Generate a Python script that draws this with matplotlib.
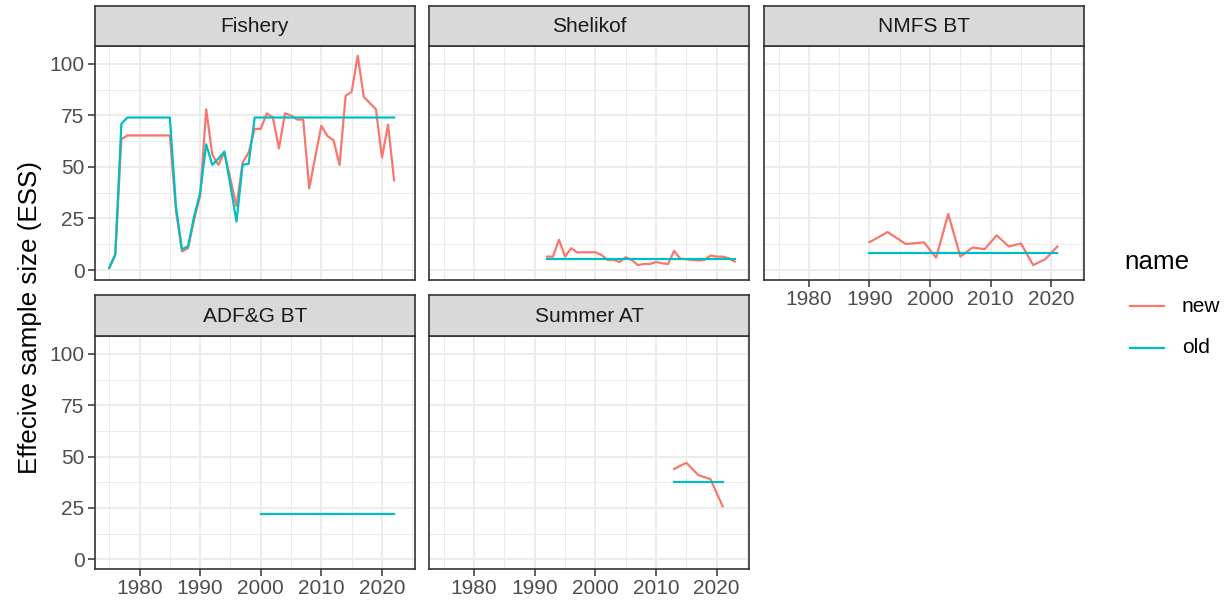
import numpy as np
import matplotlib
matplotlib.use("Agg")
import matplotlib.pyplot as plt
from matplotlib.lines import Line2D

plt.rcParams['font.family'] = ['Liberation Sans', 'DejaVu Sans']

# effective sample size by fleet / survey, "new" vs "old" weighting
fish_years = list(range(1975, 2023))
fish_new = [1, 7.5, 63.5, 65.3, 65.3, 65.3, 65.3, 65.3, 65.3, 65.3, 65.3,
            29, 9, 10.5, 24.5, 36, 78, 56, 51, 57, 44, 31, 52, 57, 68.5,
            68.5, 76, 74, 59, 76, 75, 73, 73, 39.6, 55, 70, 65, 63, 51,
            84.5, 86.5, 104, 84, 81, 78, 54.6, 70.5, 43.5]
fish_old = [1, 7.5, 71, 74, 74, 74, 74, 74, 74, 74, 74,
            31, 10, 11.5, 26, 37.5, 61, 51, 54, 57.5, 41, 23.5, 51, 51.5] + [74] * 24

shel_years = list(range(1992, 2024))
shel_new = [6.5, 6.5, 14.7, 6.5, 10.6, 8.5, 8.6, 8.6, 8.6, 7.3, 4.9, 4.9,
            3.9, 6.2, 4.9, 2.4, 2.9, 2.9, 3.9, 3.3, 2.9, 9.3, 5.5, 5.2,
            4.9, 4.6, 4.9, 7.0, 6.5, 6.5, 5.7, 4.1]
shel_old = [5.5] * 32

nmfs_years = [1990, 1993, 1996, 1999, 2001, 2003, 2005, 2007, 2009, 2011,
              2013, 2015, 2017, 2019, 2021]
nmfs_new = [13.5, 18.4, 12.6, 13.4, 6.0, 27.2, 6.5, 10.9, 10.1, 16.8,
            11.4, 12.9, 2.4, 5.2, 11.4]
nmfs_old = [8.2] * 15

adfg_years = list(range(2000, 2023))
adfg_old = [22.3] * 23

summ_years = [2013, 2015, 2017, 2019, 2021]
summ_new = [44, 47, 41, 39, 25.8]
summ_old = [37.6] * 5

panels = [
    ("Fishery", fish_years, fish_new, fish_years, fish_old),
    ("Shelikof", shel_years, shel_new, shel_years, shel_old),
    ("NMFS BT", nmfs_years, nmfs_new, nmfs_years, nmfs_old),
    ("ADF&G BT", [], [], adfg_years, adfg_old),
    ("Summer AT", summ_years, summ_new, summ_years, summ_old),
]

NEW_C = "#F8766D"
OLD_C = "#00BFC4"
GRID = "#EBEBEB"
DARK = "#333333"
TXT = "#4D4D4D"
SMALL = 15
BIG = 18.75

W, H = 1228, 605
fig = plt.figure(figsize=(W / 100, H / 100), dpi=100)


def box(x0, y0, x1, y1):
    return [x0 / W, 1 - y1 / H, (x1 - x0) / W, (y1 - y0) / H]


col_x = [94.7, 429.3, 764.0]
pw = 320
rows = [(6, 46, 280), (295, 336, 569.3)]

xlim = (1972.6, 2025.4)
ylim = (-4.85, 108.7)

for i, (title, xn, yn, xo, yo) in enumerate(panels):
    r, c = divmod(i, 3)
    st, pt, pb = rows[r]
    x0 = col_x[c]
    ax = fig.add_axes(box(x0, pt, x0 + pw, pb))
    ax.set_xlim(xlim)
    ax.set_ylim(ylim)
    ax.set_xticks([1980, 1990, 2000, 2010, 2020])
    ax.set_xticks([1975, 1985, 1995, 2005, 2015, 2025], minor=True)
    ax.set_yticks([0, 25, 50, 75, 100])
    ax.set_yticks([12.5, 37.5, 62.5, 87.5], minor=True)
    ax.grid(True, which="major", color=GRID, lw=1.3, zorder=0)
    ax.grid(True, which="minor", color=GRID, lw=0.7, zorder=0)
    ax.set_axisbelow(True)
    for s in ax.spines.values():
        s.set_color(DARK)
        s.set_linewidth(1.2)
    ax.tick_params(which="minor", length=0)
    ax.tick_params(which="major", length=4.8, width=1.1, color=DARK,
                   labelsize=SMALL, labelcolor=TXT, pad=2.5)

    if xn:
        ax.plot(xn, yn, color=NEW_C, lw=1.6, zorder=3)
    ax.plot(xo, yo, color=OLD_C, lw=1.6, zorder=4)

    show_x = (r == 1) or (c == 2)
    if not show_x:
        ax.tick_params(axis="x", length=0, labelbottom=False)
    if c != 0:
        ax.tick_params(axis="y", length=0, labelleft=False)

    sax = fig.add_axes(box(x0, st, x0 + pw, pt))
    sax.set_facecolor("#D9D9D9")
    sax.set_xticks([])
    sax.set_yticks([])
    for s in sax.spines.values():
        s.set_color(DARK)
        s.set_linewidth(1.2)
    sax.text(0.5, 0.48, title, ha="center", va="center", fontsize=SMALL,
             color="#1A1A1A", transform=sax.transAxes)

fig.text(30 / W, 1 - 317 / H, "Effecive sample size (ESS)", rotation=90,
         ha="center", va="center", fontsize=BIG, color="black")

# legend
fig.text(1124 / W, 1 - 262 / H, "name", ha="left", va="center",
         fontsize=BIG, color="black")
for lab, col, yy in [("new", NEW_C, 306), ("old", OLD_C, 348)]:
    fig.add_artist(Line2D([1130 / W, 1164 / W], [1 - yy / H, 1 - yy / H],
                          color=col, lw=1.6, transform=fig.transFigure))
    fig.text(1182 / W, 1 - yy / H, lab, ha="left", va="center",
             fontsize=SMALL, color="black")

fig.savefig("out.png", dpi=100, facecolor="white")
